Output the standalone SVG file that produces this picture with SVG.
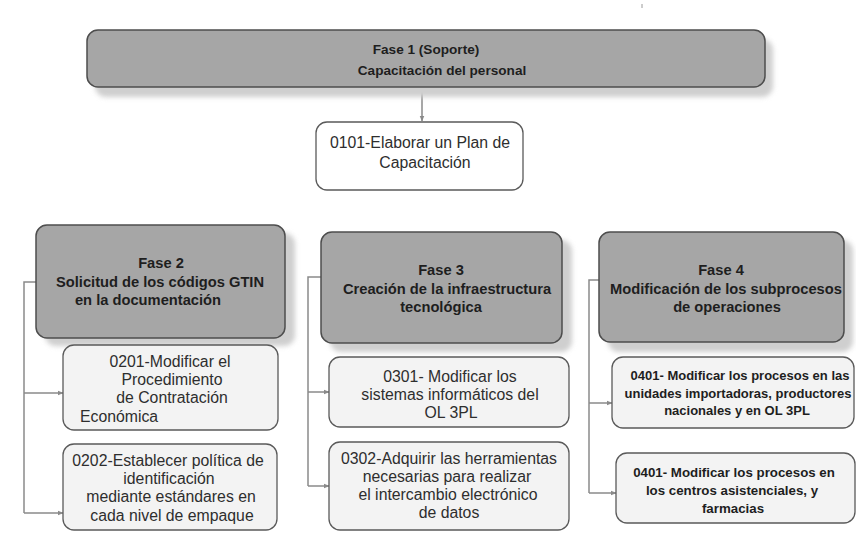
<svg xmlns="http://www.w3.org/2000/svg" width="856" height="544" viewBox="0 0 856 544">
  <defs>
    <filter id="blur" x="-10%" y="-20%" width="120%" height="140%">
      <feGaussianBlur stdDeviation="2.5"/>
    </filter>
    <marker id="arr" viewBox="0 0 10 10" refX="9" refY="5" markerWidth="6" markerHeight="6" orient="auto" markerUnits="userSpaceOnUse">
      <path d="M0,1 L10,5 L0,9 Z" fill="#8a8a8a"/>
    </marker>
    <style>
      .phase { fill: #a6a6a6; stroke: #4d4d4d; stroke-width: 1.5; }
      .shadow { fill: #cfcfcf; filter: url(#blur); }
      .task { fill: #f3f3f3; stroke: #5a5a5a; stroke-width: 1.3; }
      .white { fill: #ffffff; }
      .conn { fill: none; stroke: #8a8a8a; stroke-width: 1.5; }
      text { font-family: "Liberation Sans", Arial, sans-serif; fill: #2e2e2e; text-anchor: middle; }
      .h { font-weight: bold; font-size: 14.7px; fill: #1e1e1e; }
      .h1 { font-weight: bold; font-size: 13.6px; fill: #1e1e1e; }
      .t { font-size: 15.8px; }
      .b { font-weight: bold; font-size: 13px; fill: #1e1e1e; }
      .b2 { font-weight: bold; font-size: 13.3px; fill: #1e1e1e; }
    </style>
  </defs>
  <rect width="856" height="544" fill="#ffffff"/>
  <line x1="642" y1="4" x2="642" y2="8" stroke="#9a9a9a" stroke-width="1"/>

  <g id="connectors">
    <line class="conn" x1="422" y1="87" x2="422" y2="121" marker-end="url(#arr)"/>
    <path class="conn" d="M36,282 H24 V513"/>
    <line class="conn" x1="24" y1="393" x2="63" y2="393" marker-end="url(#arr)"/>
    <line class="conn" x1="24" y1="513" x2="63" y2="513" marker-end="url(#arr)"/>
    <path class="conn" d="M321,277 H308 V486"/>
    <line class="conn" x1="308" y1="392" x2="329" y2="392" marker-end="url(#arr)"/>
    <line class="conn" x1="308" y1="486" x2="329" y2="486" marker-end="url(#arr)"/>
    <path class="conn" d="M599,280 H589 V493"/>
    <line class="conn" x1="589" y1="403" x2="612" y2="403" marker-end="url(#arr)"/>
    <line class="conn" x1="589" y1="493" x2="616" y2="493" marker-end="url(#arr)"/>
  </g>

  <g id="fase1">
    <rect class="shadow" x="95" y="39" width="678" height="58" rx="11"/>
    <rect class="phase" x="87" y="30" width="678" height="57" rx="11"/>
    <text class="h1" x="426" y="54">Fase 1 (Soporte)</text>
    <text class="h1" x="442" y="75">Capacitación del personal</text>
  </g>

  <g id="t0101">
    <rect class="task white" x="316" y="122" width="207" height="68" rx="11"/>
    <text class="t" x="420" y="148">0101-Elaborar un Plan de</text>
    <text class="t" x="425" y="168">Capacitación</text>
  </g>

  <g id="fase2">
    <rect class="shadow" x="45" y="233" width="250" height="113" rx="11"/>
    <rect class="phase" x="36" y="225" width="249" height="113" rx="11"/>
    <text class="h" x="161" y="268">Fase 2</text>
    <text class="h" x="160" y="287">Solicitud de los códigos GTIN</text>
    <text class="h" x="148" y="305">en la documentación</text>
  </g>

  <g id="t0201">
    <rect class="task" x="63" y="345" width="215" height="85" rx="11"/>
    <text class="t" x="170" y="367">0201-Modificar el</text>
    <text class="t" x="172" y="385">Procedimiento</text>
    <text class="t" x="172" y="403">de Contratación</text>
    <text class="t" x="80" y="422" style="text-anchor:start">Económica</text>
  </g>

  <g id="t0202">
    <rect class="task" x="63" y="444" width="214" height="86" rx="11"/>
    <text class="t" x="168" y="466">0202-Establecer política de</text>
    <text class="t" x="169" y="484">identificación</text>
    <text class="t" x="171" y="502">mediante estándares en</text>
    <text class="t" x="172" y="521">cada nivel de empaque</text>
  </g>

  <g id="fase3">
    <rect class="shadow" x="330" y="240" width="242" height="112" rx="11"/>
    <rect class="phase" x="321" y="232" width="241" height="111" rx="11"/>
    <text class="h" x="441" y="275">Fase 3</text>
    <text class="h" x="447" y="294">Creación de la infraestructura</text>
    <text class="h" x="441" y="312">tecnológica</text>
  </g>

  <g id="t0301">
    <rect class="task" x="329" y="357" width="240" height="70" rx="11"/>
    <text class="t" x="450" y="382">0301- Modificar los</text>
    <text class="t" x="450" y="400">sistemas informáticos del</text>
    <text class="t" x="451" y="418">OL 3PL</text>
  </g>

  <g id="t0302">
    <rect class="task" x="329" y="442" width="240" height="88" rx="11"/>
    <text class="t" x="449" y="464">0302-Adquirir las herramientas</text>
    <text class="t" x="447" y="482">necesarias para realizar</text>
    <text class="t" x="448" y="500">el intercambio electrónico</text>
    <text class="t" x="449" y="518">de datos</text>
  </g>

  <g id="fase4">
    <rect class="shadow" x="608" y="240" width="245" height="112" rx="11"/>
    <rect class="phase" x="599" y="232" width="245" height="110" rx="11"/>
    <text class="h" x="721" y="275">Fase 4</text>
    <text class="h" x="726" y="294">Modificación de los subprocesos</text>
    <text class="h" x="727" y="312">de operaciones</text>
  </g>

  <g id="t0401a">
    <rect class="task" x="612" y="357" width="242" height="71" rx="11"/>
    <text class="b" x="740" y="380">0401- Modificar los procesos en las</text>
    <text class="b" x="738" y="398">unidades importadoras, productores</text>
    <text class="b" x="737" y="415">nacionales y en OL 3PL</text>
  </g>

  <g id="t0401b">
    <rect class="task" x="616" y="453" width="239" height="70" rx="11"/>
    <text class="b2" x="734" y="477">0401- Modificar los procesos en</text>
    <text class="b2" x="732" y="495">los centros asistenciales, y</text>
    <text class="b2" x="733" y="513">farmacias</text>
  </g>
</svg>
